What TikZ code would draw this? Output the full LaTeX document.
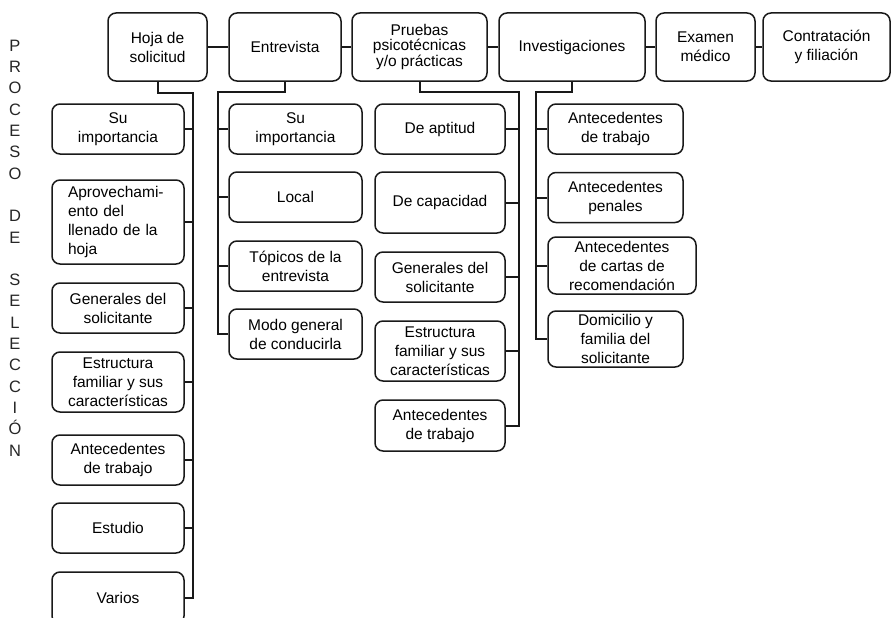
\documentclass[tikz,border=0pt]{standalone}
\usepackage{fontspec}
\setmainfont{Liberation Sans}
\begin{document}
\begin{tikzpicture}[x=1pt,y=-1pt,
  bx/.style={draw=black!90, line width=1.5pt, rounded corners=8pt, align=center,
    inner sep=2pt, font=\fontsize{15.5}{19}\selectfont, text=black},
  ln/.style={draw=black!90, line width=2pt}]
\useasboundingbox (0,0) rectangle (891,618);
% vertical title
\node[font=\fontsize{16.5}{21.3}\selectfont, align=center, text=black!85] (title) at (15,248)
 {P\\R\\O\\C\\E\\S\\O\\\mbox{}\\D\\E\\\mbox{}\\S\\E\\L\\E\\C\\C\\I\\Ó\\N};
% top row
\node[bx, minimum width=99pt, minimum height=68pt] (hoja) at (157.5,47) {Hoja de\\solicitud};
\node[bx, minimum width=112pt, minimum height=68pt] (entr) at (285,47) {Entrevista};
\node[bx, minimum width=135pt, minimum height=68pt, font=\fontsize{15.5}{14.5}\selectfont] (prue) at (419.5,47) {Pruebas\\psicotécnicas\\y/o prácticas};
\node[bx, minimum width=146pt, minimum height=68pt] (inve) at (572,47) {Investigaciones};
\node[bx, minimum width=99pt, minimum height=68pt] (exam) at (705.5,47) {Examen\\médico};
\node[bx, minimum width=127pt, minimum height=68pt] (cont) at (826.5,47) {Contratación\\y filiación};
\draw[ln] (hoja.east) -- (entr.west);
\draw[ln] (entr.east) -- (prue.west);
\draw[ln] (prue.east) -- (inve.west);
\draw[ln] (inve.east) -- (exam.west);
\draw[ln] (exam.east) -- (cont.west);
% column 1
\node[bx, minimum width=132pt, minimum height=50pt] (l1) at (118,129) {Su\\importancia};
\node[bx, text width=100pt, inner xsep=16pt, align=left, minimum height=84pt] (l2) at (118,222) {Aprovechami-\\ento del\\llenado de la\\hoja};
\node[bx, minimum width=132pt, minimum height=50pt] (l3) at (118,308) {Generales del\\solicitante};
\node[bx, minimum width=132pt, minimum height=60pt] (l4) at (118,382) {Estructura\\familiar y sus\\características};
\node[bx, minimum width=132pt, minimum height=50pt] (l5) at (118,460) {Antecedentes\\de trabajo};
\node[bx, minimum width=132pt, minimum height=50pt] (l6) at (118,528) {Estudio};
\node[bx, minimum width=132pt, minimum height=52pt] (l7) at (118,598) {Varios};
\coordinate (tL) at (193,93);
\draw[ln] (hoja.south) |- (tL) |- (l7.east);
\foreach \n in {l1,l2,l3,l4,l5,l6} \draw[ln] (\n.east) -- (tL |- \n.east);
% column 2
\node[bx, minimum width=133pt, minimum height=50pt] (e1) at (295.5,129) {Su\\importancia};
\node[bx, minimum width=133pt, minimum height=50pt] (e2) at (295.5,197) {Local};
\node[bx, minimum width=133pt, minimum height=50pt] (e3) at (295.5,266) {Tópicos de la\\entrevista};
\node[bx, minimum width=133pt, minimum height=50pt] (e4) at (295.5,334) {Modo general\\de conducirla};
\coordinate (tE) at (218,92);
\draw[ln] (entr.south) |- (tE) |- (e4.west);
\foreach \n in {e1,e2,e3} \draw[ln] (\n.west) -- (tE |- \n.west);
% column 3
\node[bx, minimum width=130pt, minimum height=50pt] (p1) at (440,129) {De aptitud};
\node[bx, minimum width=130pt, minimum height=61pt] (p2) at (440,202.5) {De capacidad};
\node[bx, minimum width=130pt, minimum height=50pt] (p3) at (440,277) {Generales del\\solicitante};
\node[bx, minimum width=130pt, minimum height=60pt] (p4) at (440,351) {Estructura\\familiar y sus\\características};
\node[bx, minimum width=130pt, minimum height=51pt] (p5) at (440,425.5) {Antecedentes\\de trabajo};
\coordinate (tP) at (519,92);
\draw[ln] (prue.south) |- (tP) |- (p5.east);
\foreach \n in {p1,p2,p3,p4} \draw[ln] (\n.east) -- (tP |- \n.east);
% column 4
\node[bx, minimum width=135pt, minimum height=50pt] (i1) at (615.5,129) {Antecedentes\\de trabajo};
\node[bx, minimum width=135pt, minimum height=50pt] (i2) at (615.5,197.5) {Antecedentes\\penales};
\node[bx, minimum width=148pt, minimum height=57pt] (i3) at (622,265.5) {Antecedentes\\de cartas de\\recomendación};
\node[bx, minimum width=135pt, minimum height=56pt] (i4) at (615.5,339) {Domicilio y\\familia del\\solicitante};
\coordinate (tI) at (536,92);
\draw[ln] (inve.south) |- (tI) |- (i4.west);
\foreach \n in {i1,i2,i3} \draw[ln] (\n.west) -- (tI |- \n.west);
\end{tikzpicture}
\end{document}
